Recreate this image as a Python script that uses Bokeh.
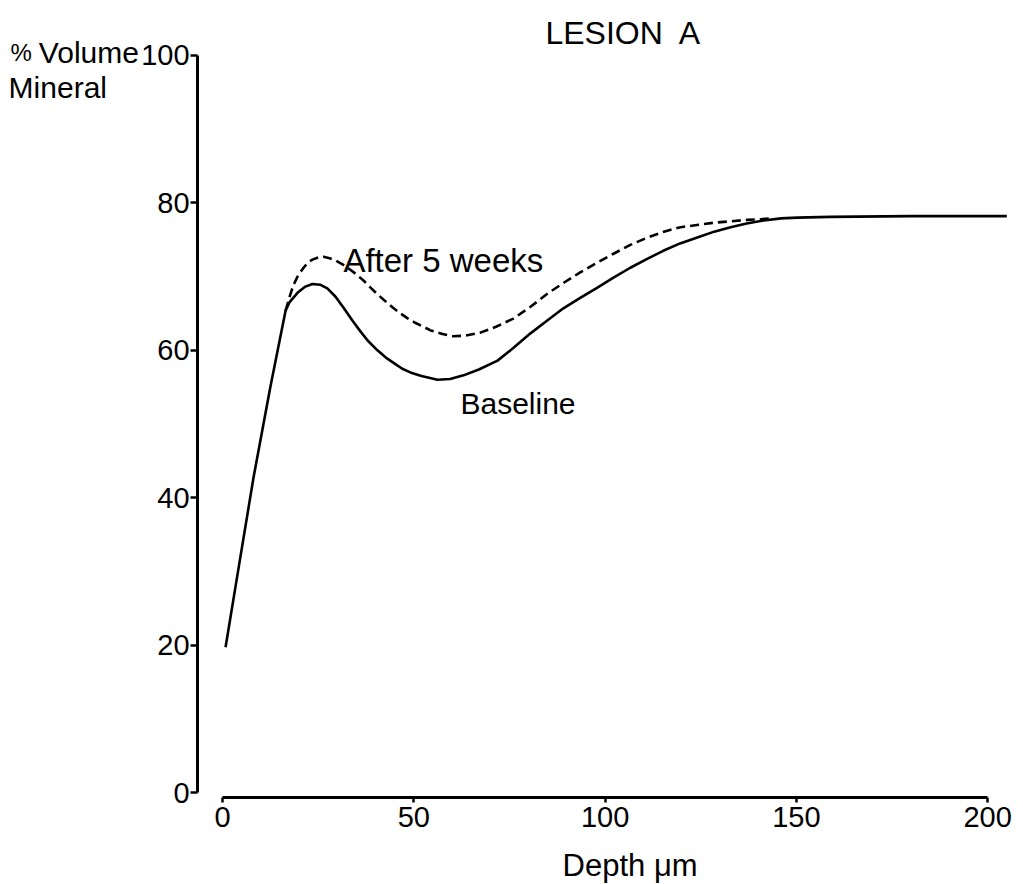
from bokeh.plotting import figure
from bokeh.models import Range1d, FixedTicker, Label
from bokeh.embed import file_html
from bokeh.resources import INLINE

# Data
base_depth = [0.8, 4.5, 8.1, 12.5, 16.5, 17.5, 19.6, 21.5, 23.5, 25.5, 27.4, 29.5, 31.6,
              34.0, 36.0, 38.0, 40.5, 43.0, 45.0, 47.0, 49.1, 52.0, 56.2, 59.5, 63.0, 67.0,
              71.9, 76.0, 80.5, 84.8, 89.1, 93.5, 98.0, 102.3, 106.6, 111.0, 115.2, 119.6,
              124.1, 128.5, 132.8, 137.0, 141.4, 146.0, 150.3, 158.9, 180.0, 205.0]
base_vals = [19.7, 31.4, 42.7, 55.0, 65.4, 66.5, 67.8, 68.6, 69.0, 68.9, 68.4, 67.3, 65.8,
             64.0, 62.6, 61.3, 60.0, 58.9, 58.2, 57.5, 57.0, 56.5, 56.0, 56.1, 56.6, 57.4,
             58.6, 60.3, 62.3, 64.0, 65.7, 67.1, 68.5, 69.9, 71.2, 72.4, 73.5, 74.5,
             75.3, 76.1, 76.7, 77.2, 77.6, 77.9, 78.0, 78.1, 78.2, 78.2]

after_depth = [16.5, 17.5, 18.5, 19.8, 21.2, 22.3, 23.5, 25.0, 26.4, 28.0, 29.5, 31.6, 33.5,
               35.0, 37.0, 38.7, 40.5, 42.5, 44.5, 46.5, 48.5, 50.5, 52.5, 54.4, 57.5, 60.4,
               63.5, 67.4, 71.5, 76.0, 80.5, 85.0, 89.3, 93.6, 97.9, 102.2, 106.6, 111.1,
               115.4, 119.7, 124.0, 128.3, 132.7, 137.2, 141.0, 144.0]
after_vals = [65.4, 67.2, 68.8, 70.2, 71.2, 71.9, 72.3, 72.6, 72.7, 72.5, 72.2, 71.6, 70.9,
              70.3, 69.4, 68.5, 67.6, 66.7, 65.8, 65.0, 64.3, 63.7, 63.2, 62.7, 62.2, 61.9,
              62.0, 62.4, 63.2, 64.3, 65.9, 67.7, 69.2, 70.6, 71.9, 73.1, 74.3, 75.3,
              76.1, 76.7, 77.0, 77.3, 77.5, 77.7, 77.8, 77.9]

y_ticks = [0, 20, 40, 60, 80, 100]
x_ticks = [0, 50, 100, 150, 200]

FONT = "Liberation Sans"

# frame covers the whole canvas; axes are fixed at their data locations
p = figure(width=1023, height=884, output_backend="svg", toolbar_location=None,
           x_range=Range1d(-58.02, 209.36), y_range=Range1d(-12.48, 107.46),
           min_border=0)
p.outline_line_color = None
p.grid.visible = False
p.background_fill_color = "white"
p.border_fill_color = "white"

for ax in (p.xaxis[0], p.yaxis[0]):
    ax.axis_line_width = 3
    ax.axis_line_color = "black"
    ax.major_tick_line_width = 2.5
    ax.major_tick_line_color = "black"
    ax.minor_tick_line_color = None
    ax.major_tick_in = 0
    ax.major_label_text_font = FONT
    ax.major_label_text_font_size = "29px"
    ax.major_label_text_color = "black"

p.yaxis[0].ticker = FixedTicker(ticks=y_ticks)
p.yaxis[0].bounds = (0, 100)
p.yaxis[0].major_tick_out = 7
p.yaxis[0].major_label_standoff = 1
p.yaxis[0].fixed_location = -6.5

p.xaxis[0].ticker = FixedTicker(ticks=x_ticks)
p.xaxis[0].bounds = (0, 200)
p.xaxis[0].major_tick_out = 5
p.xaxis[0].major_label_standoff = 4
p.xaxis[0].fixed_location = -0.68

p.line(base_depth, base_vals, line_color="black", line_width=2.6, line_join="round")
p.line(after_depth, after_vals, line_color="black", line_width=2.6, line_dash="9 5")

def lab(x, y, t, size):
    p.add_layout(Label(x=x, y=y, text=t, text_font=FONT, text_font_size=size,
                       text_color="black", text_baseline="alphabetic", text_align="left"))

lab(84.4, 103.0, "LESION\u2002A", "32px")
lab(-55.4, 100.4, "%", "24px")
lab(-48.0, 100.4, "Volume", "30px")
lab(-55.9, 95.66, "Mineral", "30px")
lab(31.6, 72.2, "After 5 weeks", "33px")
lab(62.2, 52.8, "Baseline", "30px")
lab(88.9, -9.9, "Depth \u03bcm", "31px")

open("out.html", "w").write(file_html(p, INLINE))
